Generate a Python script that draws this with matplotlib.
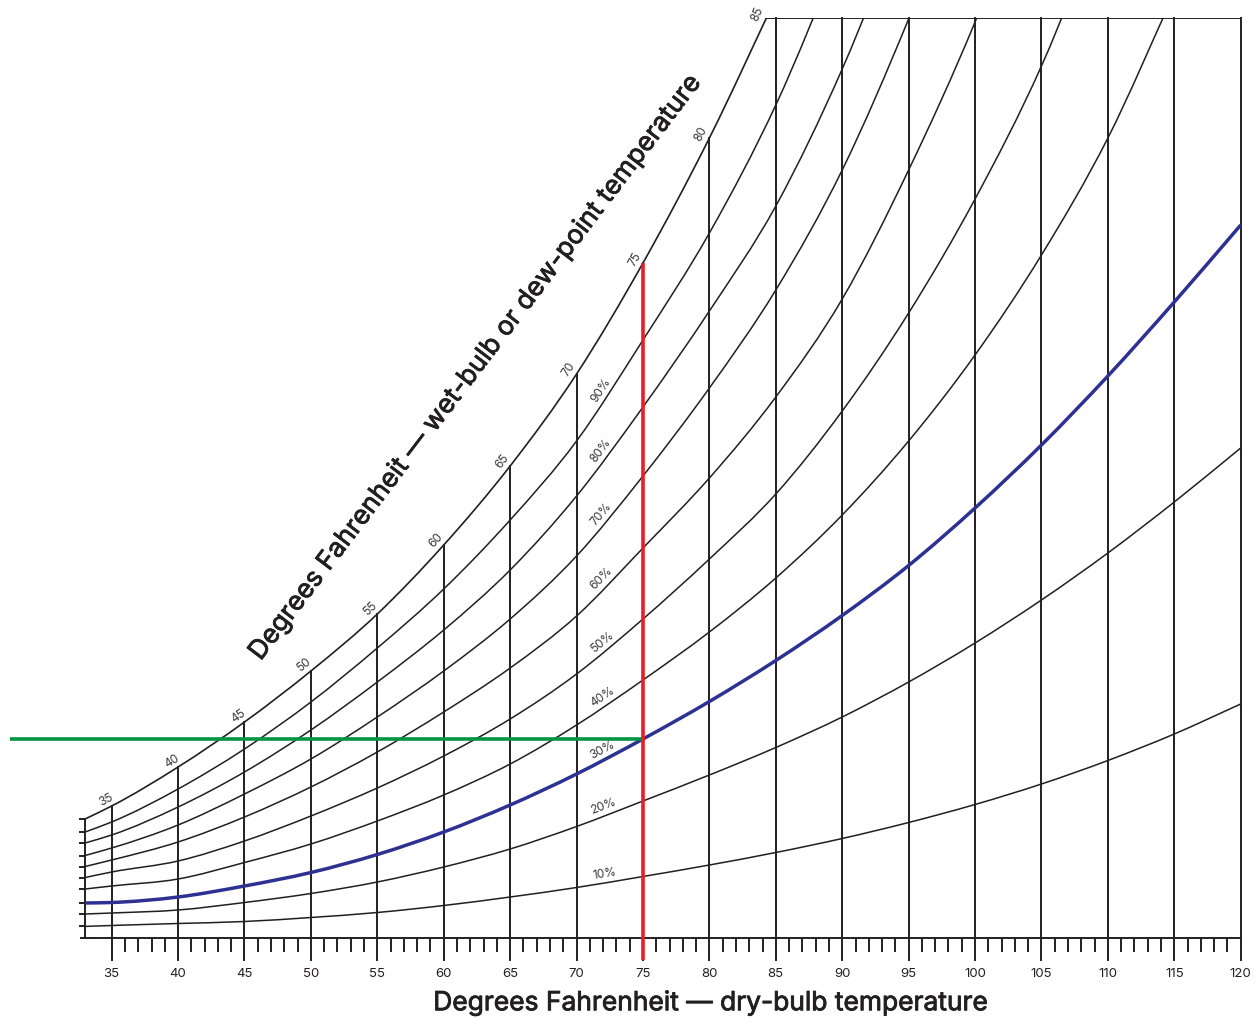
import numpy as np
import matplotlib
matplotlib.use('Agg')
import matplotlib.pyplot as plt
import matplotlib.patheffects as pe
from matplotlib.path import Path
from matplotlib.patches import PathPatch
from matplotlib.transforms import offset_copy

temps = [33, 35, 40, 45, 50, 55, 60, 65, 70, 75, 80, 85, 90, 95, 100, 105, 110, 115, 120]

# moisture content, grains per lb of dry air (each list runs along temps until it leaves the chart)
saturation = [23.8, 26.4, 34.2, 43.2, 53.4, 64.8, 78.6, 94.4, 112.8, 135.0, 160.0, 188.0]
rh_90 = [21.2, 23.2, 29.8, 37.8, 47.2, 58.0, 69.8, 83.6, 99.4, 119.6, 141.0, 166.6, 198.0]
rh_80 = [19.0, 20.6, 26.2, 33.2, 41.6, 51.2, 61.6, 73.6, 88.4, 106.2, 125.4, 146.4, 173.8, 206.8]
rh_70 = [16.5, 18.0, 22.6, 28.8, 35.8, 44.2, 53.4, 63.8, 76.4, 92.4, 110.0, 129.6, 153.6, 183.8, 218.0]
rh_60 = [14.3, 15.6, 19.2, 24.2, 30.2, 37.2, 45.2, 54.0, 64.4, 78.0, 92.0, 108.2, 127.8, 153.6, 183.2, 218.0]
rh_50 = [12.1, 13.2, 15.4, 19.4, 24.4, 30.0, 36.4, 43.8, 52.8, 63.8, 75.8, 88.8, 105.4, 125.0, 147.8, 174.4, 207.4]
rh_40 = [9.8, 10.4, 11.8, 15.1, 18.8, 23.4, 28.6, 34.8, 42.6, 51.6, 61.2, 72.0, 84.6, 99.4, 116.6, 136.6, 160.0, 189.0]
rh_30 = [7.0, 7.1, 8.2, 10.4, 13.1, 16.7, 21.2, 26.6, 32.8, 39.8, 47.3, 55.5, 64.5, 74.5, 86.0, 98.6, 112.4, 127.2, 142.6]
rh_20 = [4.8, 5.0, 5.6, 7.1, 8.9, 11.2, 14.2, 17.8, 22.3, 27.4, 32.6, 38.1, 44.2, 51.2, 59.0, 67.6, 77.0, 87.2, 98.0]
rh_10 = [2.32, 2.5, 2.9, 3.3, 4.1, 5.1, 6.5, 8.2, 10.1, 12.3, 14.6, 17.1, 19.9, 23.1, 26.7, 30.8, 35.5, 40.8, 46.8]

rh_curves = {10: rh_10, 20: rh_20, 30: rh_30, 40: rh_40, 50: rh_50,
             60: rh_60, 70: rh_70, 80: rh_80, 90: rh_90}
major_ticks = list(range(35, 121, 5))
wetbulb_labels = list(range(35, 86, 5))
marked_temp = 75
marked_rh = 30

INK = '#231f20'
LABEL = '#3a3a3a'
BLUE = '#2e3192'
RED = '#ed1c24'
GREEN = '#009444'
FONT = 'Inter'

Y_TOP = 184.0
MAJOR_LEN = -4.4
MINOR_LEN = -2.8
GREEN_START = 27.35
RH_LABEL_T = 72.2


def smooth_path(xs, ys):
    # cubic hermite through the read points, drawn as bezier segments
    xs = np.asarray(xs, float)
    ys = np.asarray(ys, float)
    m = np.gradient(ys, xs)
    verts = [(xs[0], ys[0])]
    codes = [Path.MOVETO]
    for i in range(len(xs) - 1):
        dx = xs[i + 1] - xs[i]
        verts += [(xs[i] + dx / 3, ys[i] + m[i] * dx / 3),
                  (xs[i + 1] - dx / 3, ys[i + 1] - m[i + 1] * dx / 3),
                  (xs[i + 1], ys[i + 1])]
        codes += [Path.CURVE4] * 3
    return Path(verts, codes)


def screen_angle(ax, x0, y0, x1, y1):
    p0, p1 = ax.transData.transform([(x0, y0), (x1, y1)])
    return np.degrees(np.arctan2(p1[1] - p0[1], p1[0] - p0[0]))


fig = plt.figure(figsize=(12.56, 10.19), dpi=100)
ax = fig.add_axes([85.1 / 1256, 81 / 1019, 1155.6 / 1256, 920 / 1019])
ax.set_xlim(temps[0], temps[-1])
ax.set_ylim(0, Y_TOP)
ax.axis('off')

sat_at = dict(zip(temps, saturation))

# dry-bulb verticals
for t in major_ticks:
    top = sat_at[t] if t in sat_at and sat_at[t] < Y_TOP else Y_TOP
    ax.plot([t, t], [MAJOR_LEN, top], color=INK, lw=1.4, clip_on=False, zorder=2)
minor = [t for t in range(36, 120) if t % 5]
ax.vlines(minor, MINOR_LEN, 0, color=INK, lw=1.4, clip_on=False, zorder=2)
ax.plot([32.7, temps[-1]], [0, 0], color=INK, lw=1.4, clip_on=False, zorder=2)

# left edge with a tick for each curve
left_vals = [c[0] for c in rh_curves.values()] + [saturation[0]]
ax.plot([temps[0], temps[0]], [0, saturation[0]], color=INK, lw=1.4, zorder=2, clip_on=False)
ax.hlines(left_vals, 32.55, temps[0], color=INK, lw=1.4, clip_on=False, zorder=2)

# top border from where saturation leaves the chart
x_cross = np.interp(Y_TOP, saturation, temps[:len(saturation)])
ax.plot([x_cross, temps[-1]], [Y_TOP, Y_TOP], color=INK, lw=1.4, zorder=2)

# saturation + RH curves
ax.add_patch(PathPatch(smooth_path(temps[:len(saturation)], saturation),
                       fill=False, ec=INK, lw=1.2, zorder=3))
for rh, vals in rh_curves.items():
    if rh == marked_rh:
        ax.add_patch(PathPatch(smooth_path(temps[:len(vals)], vals),
                               fill=False, ec=BLUE, lw=2.5, zorder=4))
    else:
        ax.add_patch(PathPatch(smooth_path(temps[:len(vals)], vals),
                               fill=False, ec=INK, lw=1.1, zorder=3))

# wet-bulb labels along the saturation curve
slopes = np.gradient(np.asarray(saturation), np.asarray(temps[:len(saturation)], float))
lab_tr = offset_copy(ax.transData, fig=fig, x=-3, y=1, units='dots')
for t in wetbulb_labels:
    if sat_at[t] < Y_TOP:
        x0, y0 = t, sat_at[t]
        k = slopes[temps.index(t)]
    else:
        x0, y0 = x_cross, Y_TOP
        k = slopes[temps.index(t) - 1] * 1.15
    ang = screen_angle(ax, x0 - 0.5, y0 - 0.5 * k, x0 + 0.5, y0 + 0.5 * k)
    ax.text(x0, y0, str(t), transform=lab_tr, rotation=ang, rotation_mode='anchor',
            ha='center', va='bottom', fontsize=8.5, color=LABEL, family=FONT)

# RH labels
for rh, vals in rh_curves.items():
    ts = temps[:len(vals)]
    i = ts.index(70)
    y0 = np.interp(RH_LABEL_T, ts, vals)
    ang = screen_angle(ax, ts[i], vals[i], ts[i + 1], vals[i + 1])
    ax.text(RH_LABEL_T, y0, f'{rh}%', transform=offset_copy(ax.transData, fig=fig, x=0, y=3, units='dots'),
            rotation=ang, rotation_mode='anchor', ha='center', va='bottom',
            fontsize=8.5, color=LABEL, family=FONT)

# marked point: 75F dry bulb at 30% RH
y_mark = rh_curves[marked_rh][temps.index(marked_temp)]
ax.plot([marked_temp, marked_temp], [MAJOR_LEN, sat_at[marked_temp]], color=RED, lw=2.6,
        clip_on=False, zorder=6, solid_capstyle='butt')
ax.plot([GREEN_START, marked_temp], [y_mark, y_mark], color=GREEN, lw=2.6,
        clip_on=False, zorder=5, solid_capstyle='butt')

# x tick labels
for t in major_ticks:
    ax.text(t, -7.2, str(t), ha='center', va='center', fontsize=9.5, color=INK, family=FONT)

heavy = [pe.withStroke(linewidth=0.6, foreground=INK)]
fig.text(710 / 1256, 1 - 1003 / 1019, 'Degrees Fahrenheit \u2014 dry-bulb temperature',
         ha='center', va='center', fontsize=19, color=INK, family=FONT, path_effects=heavy)
fig.text(475 / 1256, 1 - 368 / 1019, 'Degrees Fahrenheit \u2014 wet-bulb or dew-point temperature',
         ha='center', va='center', rotation=52.7, rotation_mode='anchor',
         fontsize=19, color=INK, family=FONT, path_effects=heavy)

fig.savefig('out.png', dpi=100, facecolor='white')
